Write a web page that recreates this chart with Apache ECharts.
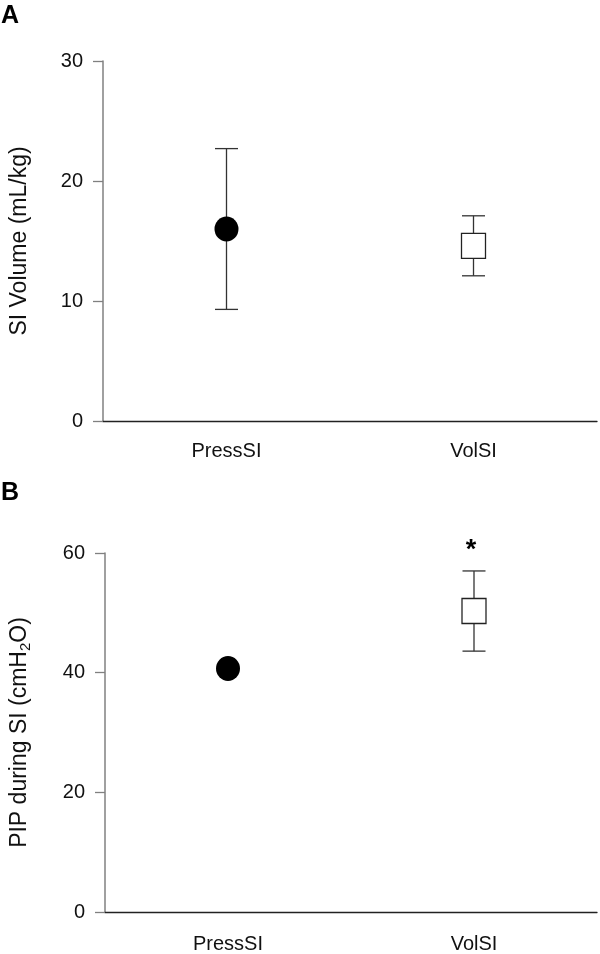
<!DOCTYPE html>
<html>
<head>
<meta charset="utf-8">
<script src="https://cdn.jsdelivr.net/npm/echarts@6/dist/echarts.min.js"></script>
<style>
html,body{margin:0;padding:0;background:#fff;}
#chart{width:600px;height:954px;}
</style>
</head>
<body>
<div id="chart"></div>
<script>
// ---- data ----
const categories = ['PressSI', 'VolSI'];
// Panel A: SI Volume (mL/kg)
const volMean = [16.0, 14.6];
const volLow = [9.3, 12.1];
const volHigh = [22.7, 17.1];
const volSig = ['', ''];
const volTicks = [0, 10, 20, 30];
// Panel B: PIP during SI (cmH2O)
const pipMean = [40.7, 50.3];
const pipLow = [null, 43.6];
const pipHigh = [null, 57.0];
const pipSig = ['', '*'];
const pipTicks = [0, 20, 40, 60];

const FONT = 'Liberation Sans, Arial, Helvetica, sans-serif';
const markerSymbols = ['circle', 'rect'];
const markerStyles = [
  { color: '#000', borderColor: '#000', borderWidth: 0, opacity: 1 },
  { color: '#fff', borderColor: '#222', borderWidth: 1.3, opacity: 1 }
];

function errRender(sig) {
  return function (params, api) {
    const x = api.value(0);
    const lo = api.value(1), hi = api.value(2);
    const pLo = api.coord([x, lo]);
    const pHi = api.coord([x, hi]);
    const hw = 11.5;
    const st = { stroke: '#333', lineWidth: 1.3 };
    const children = [
      { type: 'line', shape: { x1: pLo[0], y1: pLo[1], x2: pHi[0], y2: pHi[1] }, style: st },
      { type: 'line', shape: { x1: pLo[0] - hw, y1: pLo[1], x2: pLo[0] + hw, y2: pLo[1] }, style: st },
      { type: 'line', shape: { x1: pHi[0] - hw, y1: pHi[1], x2: pHi[0] + hw, y2: pHi[1] }, style: st }
    ];
    const s = sig[params.dataIndex];
    if (s) {
      children.push({
        type: 'text',
        style: {
          text: s, x: pHi[0] - 3, y: pHi[1] - 20,
          align: 'center', verticalAlign: 'middle',
          font: 'bold 27px ' + FONT, fill: '#000'
        }
      });
    }
    return { type: 'group', children: children };
  };
}

function errData(low, high) {
  const out = [];
  low.forEach((l, i) => { if (l !== null && high[i] !== null) out.push([i, l, high[i]]); });
  return out;
}
function errSig(low, high, sig) {
  const out = [];
  low.forEach((l, i) => { if (l !== null && high[i] !== null) out.push(sig[i]); });
  return out;
}
function markerData(mean) {
  return mean.map((m, i) => ({
    value: [i, m],
    symbol: markerSymbols[i],
    symbolSize: [24, 25],
    itemStyle: markerStyles[i]
  }));
}

function xAxisCfg(gi, margin) {
  return {
    type: 'category', gridIndex: gi, data: categories, boundaryGap: true,
    axisLine: { lineStyle: { color: '#222', width: 1.3 } },
    axisTick: { alignWithLabel: true, length: 11, lineStyle: { color: '#555', width: 1.3 } },
    axisLabel: { fontSize: 20, color: '#111', fontFamily: FONT, margin: margin },
    splitLine: { show: false }
  };
}
function yAxisCfg(gi, ticks, nameRich) {
  return {
    type: 'value', gridIndex: gi,
    min: ticks[0], max: ticks[ticks.length - 1], interval: ticks[1] - ticks[0],
    axisLine: { show: true, lineStyle: { color: '#808080', width: 1.5 } },
    axisTick: { show: true, length: 10, lineStyle: { color: '#808080', width: 1.3 } },
    axisLabel: { fontSize: 20, color: '#111', fontFamily: FONT, margin: 20 },
    splitLine: { show: false },
    name: nameRich, nameLocation: 'middle', nameGap: 72,
    nameTextStyle: {
      fontSize: 23, color: '#111', fontFamily: FONT,
      rich: {
        a: { fontSize: 23, color: '#111', fontFamily: FONT },
        sub: { fontSize: 15, color: '#111', fontFamily: FONT, padding: [12, 0, 0, 0] }
      }
    }
  };
}

const chart = echarts.init(document.getElementById('chart'), null, { renderer: 'canvas' });
chart.setOption({
  backgroundColor: '#fff',
  animation: false,
  grid: [
    { left: 98, right: 3, top: 61, height: 360 },
    { left: 98, right: 3, top: 553, height: 360 }
  ],
  graphic: [
    { type: 'text', left: 1, top: 4, style: { text: 'A', font: 'bold 25px ' + FONT, fill: '#000' } },
    { type: 'text', left: 1, top: 481, style: { text: 'B', font: 'bold 25px ' + FONT, fill: '#000' } }
  ],
  xAxis: [xAxisCfg(0, 20), xAxisCfg(1, 22)],
  yAxis: [
    yAxisCfg(0, volTicks, '{a|SI Volume (mL/kg)}'),
    yAxisCfg(1, pipTicks, '{a|PIP during SI (cmH}{sub|2}{a|O)}')
  ],
  series: [
    { type: 'custom', xAxisIndex: 0, yAxisIndex: 0, renderItem: errRender(errSig(volLow, volHigh, volSig)),
      data: errData(volLow, volHigh), encode: { x: 0, y: [1, 2] }, z: 1 },
    { type: 'scatter', xAxisIndex: 0, yAxisIndex: 0, data: markerData(volMean), z: 2 },
    { type: 'custom', xAxisIndex: 1, yAxisIndex: 1, renderItem: errRender(errSig(pipLow, pipHigh, pipSig)),
      data: errData(pipLow, pipHigh), encode: { x: 0, y: [1, 2] }, z: 1, clip: false },
    { type: 'scatter', xAxisIndex: 1, yAxisIndex: 1, data: markerData(pipMean), z: 2 }
  ]
});
</script>
</body>
</html>
